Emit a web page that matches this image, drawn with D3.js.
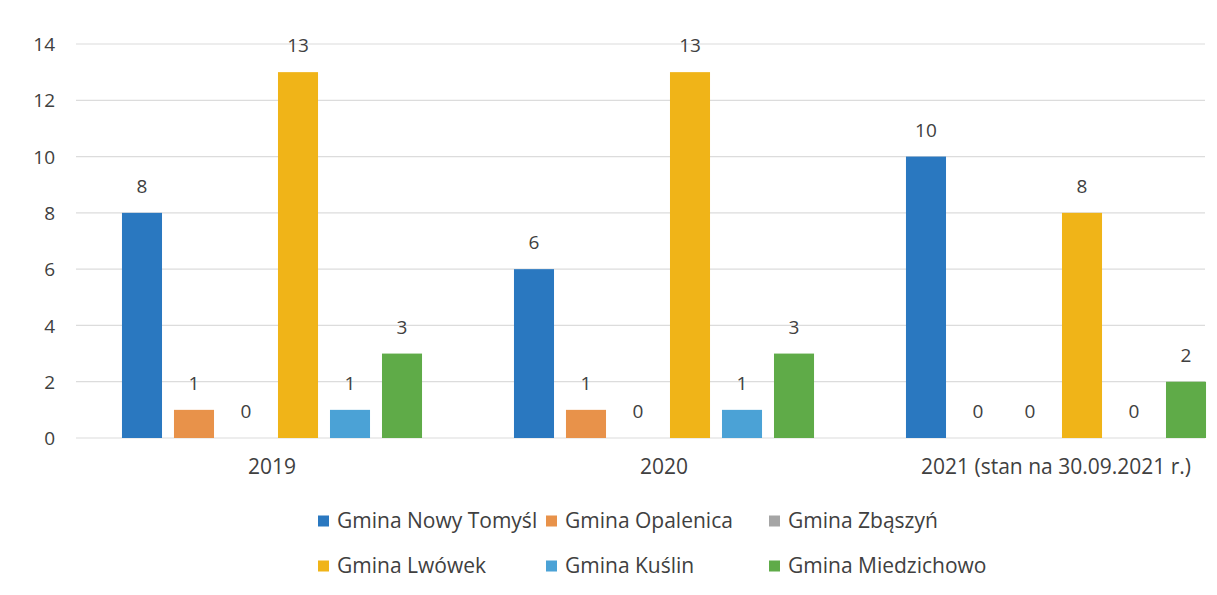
<!DOCTYPE html>
<html><head><meta charset="utf-8">
<script src="https://cdn.jsdelivr.net/npm/d3@7"></script>
<style>body{margin:0;background:#fff}svg{display:block}text{font-family:"Open Sans",sans-serif;fill:#404040}</style>
</head><body><svg width="1217" height="595"></svg>
<script>
const categories = ["2019", "2020", "2021 (stan na 30.09.2021 r.)"];
const seriesNames = ["Gmina Nowy Tomyśl", "Gmina Opalenica", "Gmina Zbąszyń", "Gmina Lwówek", "Gmina Kuślin", "Gmina Miedzichowo"];
const nowyTomysl = [8, 6, 10];
const opalenica = [1, 1, 0];
const zbaszyn = [0, 0, 0];
const lwowek = [13, 13, 8];
const kuslin = [1, 1, 0];
const miedzichowo = [3, 3, 2];
const yTicks = [0, 2, 4, 6, 8, 10, 12, 14];
const colors = ["#2a78c0", "#e8924a", "#a5a5a5", "#f0b418", "#4ba2d6", "#5fab48"];

const seriesValues = [nowyTomysl, opalenica, zbaszyn, lwowek, kuslin, miedzichowo];
const svg = d3.select("svg");
const fs = 19, fsBig = 21;

const y = d3.scaleLinear().domain([0, 14]).range([438, 44]);
const x0 = d3.scaleBand().domain(categories).range([76, 1252]);
const x1 = d3.scaleBand().domain(seriesNames).range([0, x0.bandwidth()]).paddingInner(0.23).paddingOuter(0.884);

// gridlines
svg.append("g").selectAll("line").data(yTicks).join("line")
  .attr("x1", 76).attr("x2", 1205)
  .attr("y1", d => y(d)).attr("y2", d => y(d))
  .attr("stroke", "#dcdcdc").attr("stroke-width", 1.2);

// y axis labels
const yAxis = d3.axisLeft(y).tickValues(yTicks).tickSize(0).tickPadding(0);
const ya = svg.append("g").attr("transform", "translate(55,0)").call(yAxis);
ya.select(".domain").remove();
ya.selectAll("text").attr("font-size", fs).style("font-family", '"Open Sans",sans-serif').attr("fill", "#404040").attr("dy", "0.35em");

// x axis labels
const xAxis = d3.axisBottom(x0).tickSize(0).tickPadding(0);
const xa = svg.append("g").attr("transform", "translate(0,467)").call(xAxis);
xa.select(".domain").remove();
xa.selectAll("text").attr("font-size", fsBig).style("font-family", '"Open Sans",sans-serif').attr("fill", "#404040").attr("dy", "0.35em");

// bars
const groups = svg.append("g").selectAll("g").data(categories).join("g")
  .attr("transform", c => `translate(${x0(c)},0)`);
groups.each(function(c, ci) {
  const g = d3.select(this);
  const data = seriesNames.map((s, si) => ({s, si, v: seriesValues[si][ci]}));
  g.selectAll("rect").data(data).join("rect")
    .attr("x", d => x1(d.s)).attr("width", x1.bandwidth())
    .attr("y", d => y(d.v)).attr("height", d => y(0) - y(d.v))
    .attr("fill", d => colors[d.si]);
  g.selectAll("text").data(data).join("text")
    .attr("x", d => x1(d.s) + x1.bandwidth() / 2)
    .attr("y", d => y(d.v) - 20)
    .attr("text-anchor", "middle").attr("font-size", fs)
    .text(d => d.v);
});

// legend
const legCols = [318, 546, 769];
const legRows = [521, 566];
const leg = svg.append("g").selectAll("g").data(seriesNames).join("g")
  .attr("transform", (d, i) => `translate(${legCols[i % 3]},${legRows[Math.floor(i / 3)]})`);
leg.append("rect").attr("x", 0).attr("y", -5.5).attr("width", 11).attr("height", 11).attr("fill", (d, i) => colors[i]);
leg.append("text").attr("x", 19).attr("dy", "0.35em").attr("font-size", fsBig).text(d => d);
</script></body></html>
